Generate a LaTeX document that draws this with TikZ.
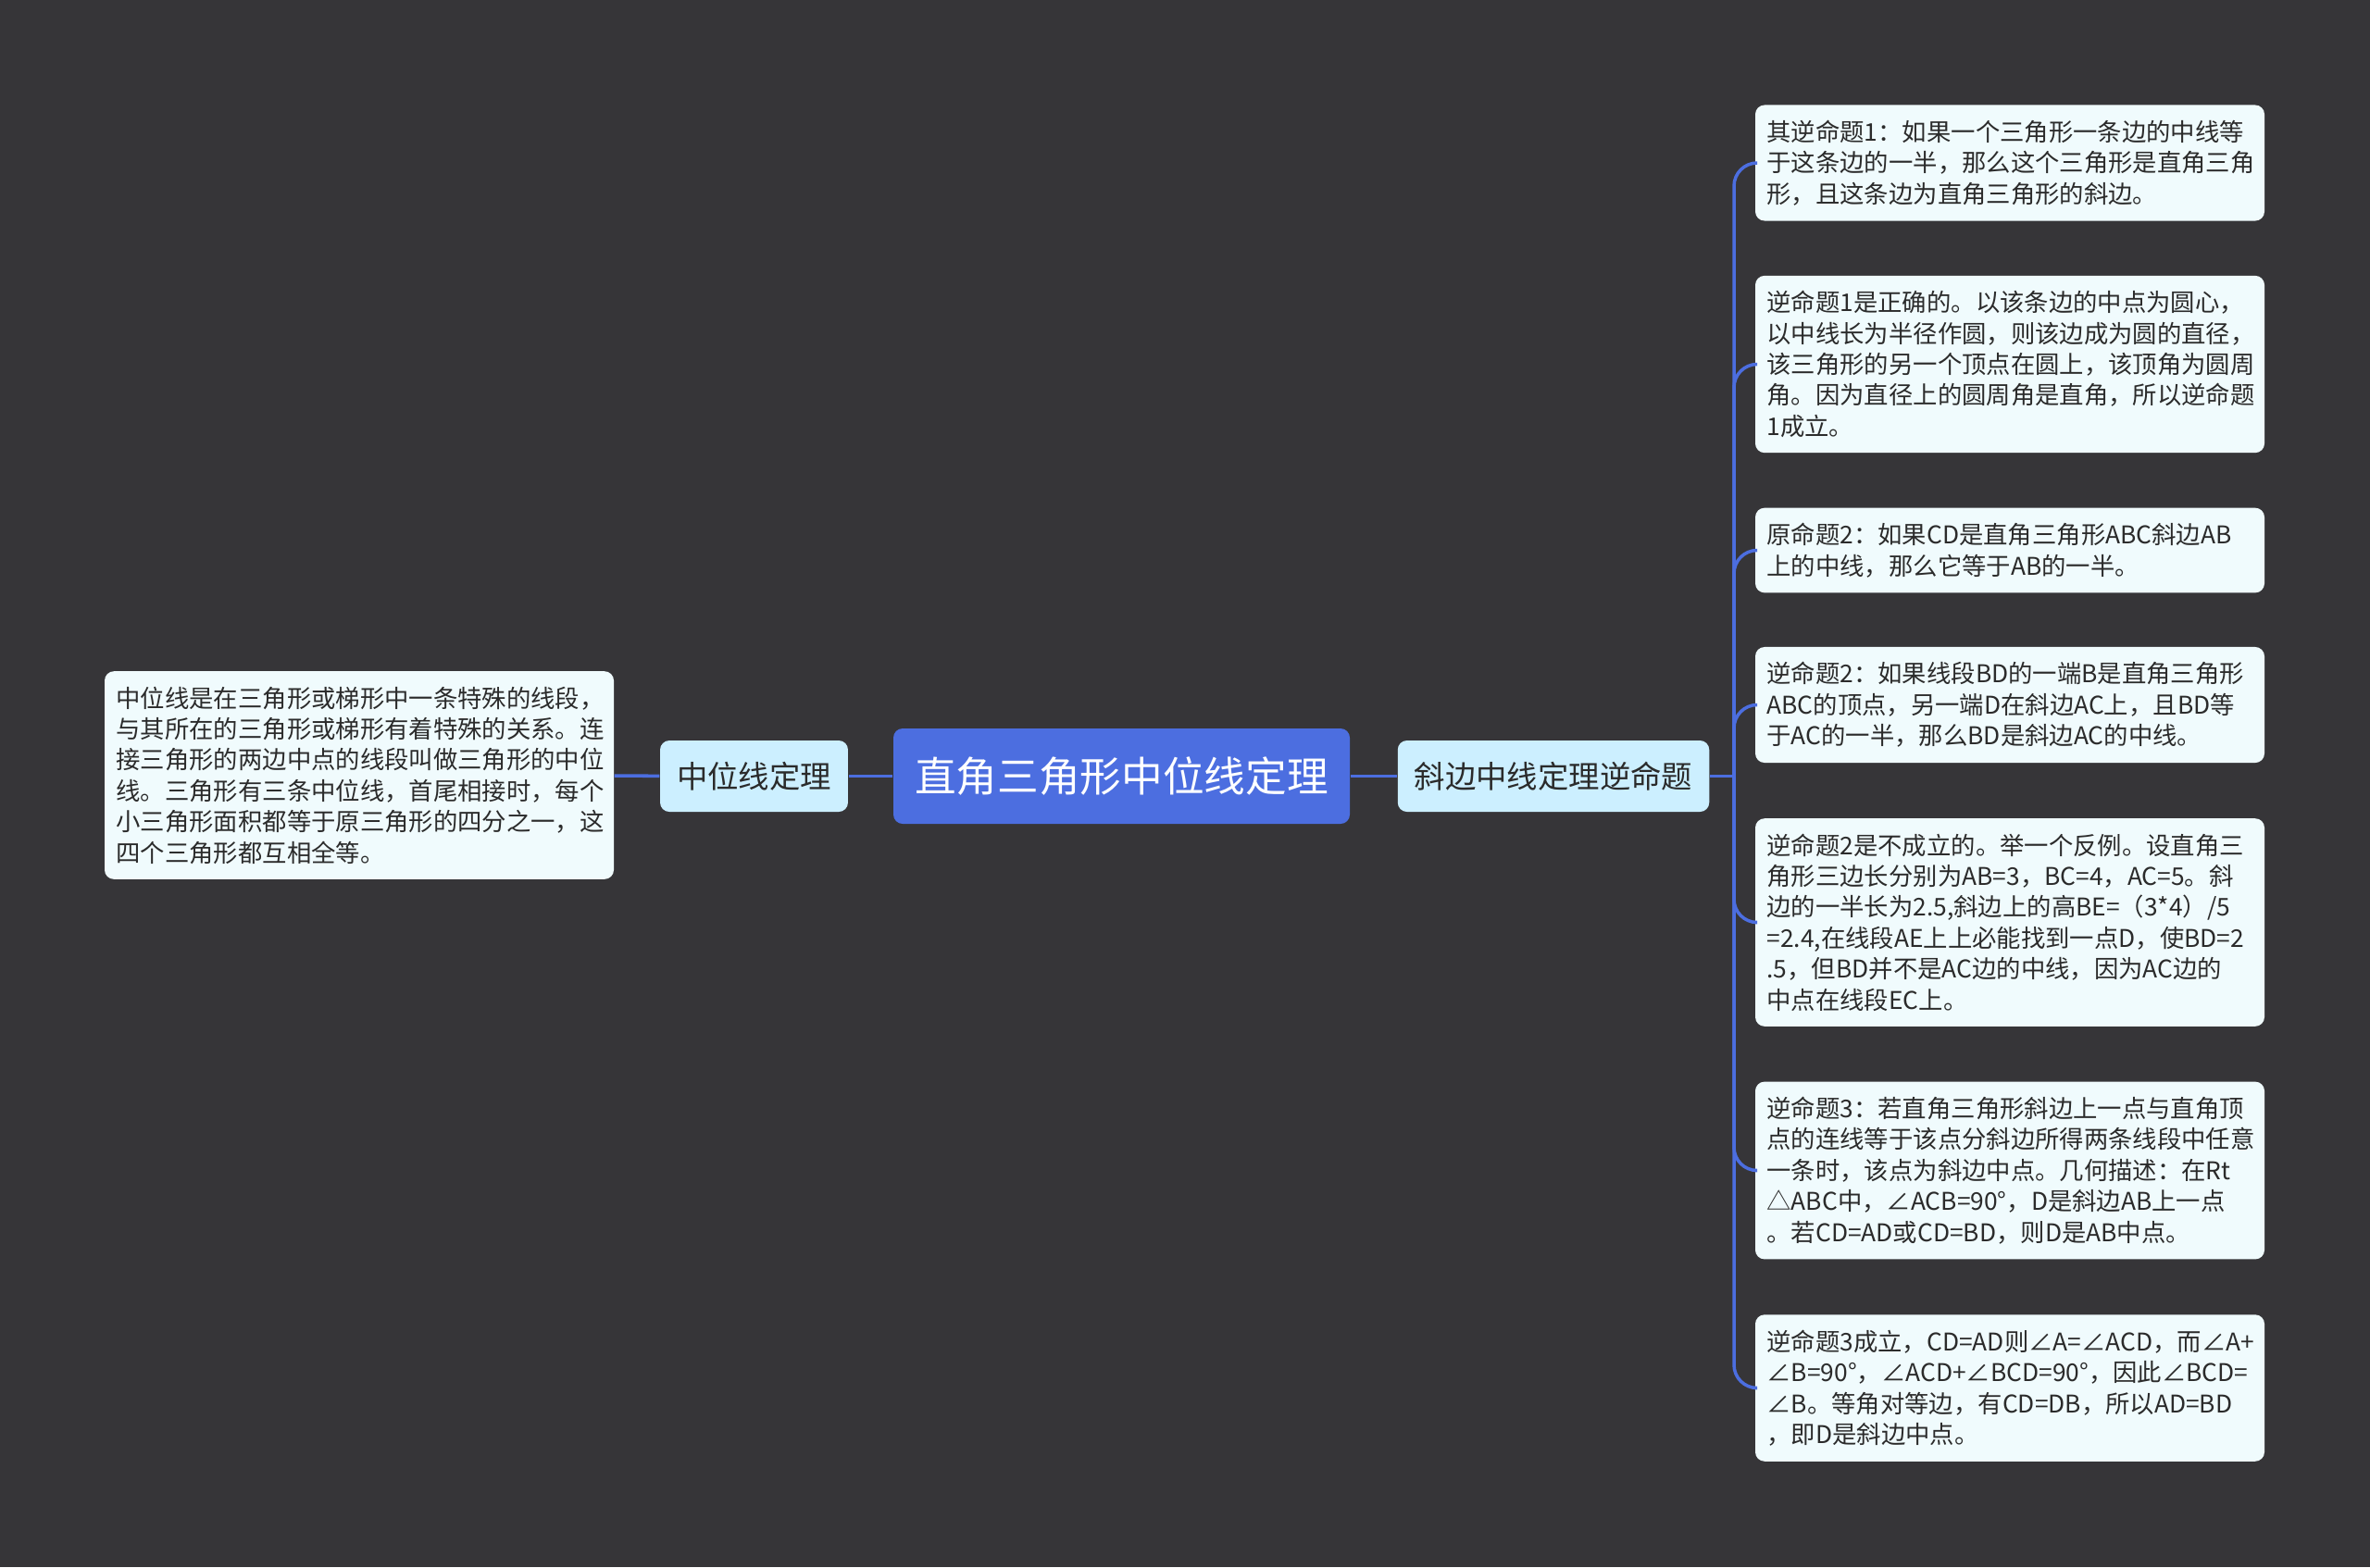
\documentclass[tikz,border=0pt]{standalone}
\usepackage{fontspec}
\setmainfont{Noto Sans CJK SC}
\usetikzlibrary{positioning}
\definecolor{bgdark}{HTML}{363538}
\definecolor{rootblue}{HTML}{4C6EE0}
\definecolor{topicblue}{HTML}{CCEFFF}
\definecolor{notewhite}{HTML}{F0FBFD}
\definecolor{inkdark}{HTML}{2B2B2B}

\begin{document}
\begin{tikzpicture}[root/.style={fill=rootblue,text=white,rounded corners=1mm,minimum width=4.93cm,minimum height=1.03cm,inner sep=0pt,font=\fontsize{12.7pt}{15pt}\selectfont},topic/.style={fill=topicblue,text=inkdark,rounded corners=1mm,minimum height=0.77cm,inner xsep=1.8mm,inner ysep=0pt,font=\fontsize{9.5pt}{11pt}\selectfont},note/.style={fill=notewhite,text=inkdark,rounded corners=1mm,align=left,text width=5.25cm,inner xsep=1.25mm,inner ysep=1.65mm,font=\fontsize{7.5pt}{9.5pt}\selectfont},link/.style={draw=rootblue,line width=1pt,rounded corners=2.5mm}]
\fill[bgdark] (0,0) rectangle (25.6,-16.93);
\useasboundingbox (0,0) rectangle (25.6,-16.93);
\node[root] (main) at (12.115,-8.385){直角三角形中位线定理};
\node[topic] (midline) at (8.145,-8.385){中位线定理};
\node[topic] (converse) at (16.78,-8.385){斜边中线定理逆命题};
\node[note] (midnote) at (3.88,-8.375){中位线是在三角形或梯形中一条特殊的线段，\\与其所在的三角形或梯形有着特殊的关系。连\\接三角形的两边中点的线段叫做三角形的中位\\线。三角形有三条中位线，首尾相接时，每个\\小三角形面积都等于原三角形的四分之一，这\\四个三角形都互相全等。};
\node[note] (conv1) at (21.71,-1.76){其逆命题1：如果一个三角形一条边的中线等\\于这条边的一半，那么这个三角形是直角三角\\形，且这条边为直角三角形的斜边。};
\node[note] (proof1) at (21.71,-3.935){逆命题1是正确的。以该条边的中点为圆心，\\以中线长为半径作圆，则该边成为圆的直径，\\该三角形的另一个顶点在圆上，该顶角为圆周\\角。因为直径上的圆周角是直角，所以逆命题\\1成立。};
\node[note] (orig2) at (21.71,-5.945){原命题2：如果CD是直角三角形ABC斜边AB\\上的中线，那么它等于AB的一半。};
\node[note] (conv2) at (21.71,-7.615){逆命题2：如果线段BD的一端B是直角三角形\\ABC的顶点，另一端D在斜边AC上，且BD等\\于AC的一半，那么BD是斜边AC的中线。};
\node[note] (proof2) at (21.71,-9.965){逆命题2是不成立的。举一个反例。设直角三\\角形三边长分别为AB=3，BC=4，AC=5。斜\\边的一半长为2.5,斜边上的高BE=（3*4）/5\\=2.4,在线段AE上上必能找到一点D，使BD=2\\.5，但BD并不是AC边的中线，因为AC边的\\中点在线段EC上。};
\node[note] (conv3) at (21.71,-12.645){逆命题3：若直角三角形斜边上一点与直角顶\\点的连线等于该点分斜边所得两条线段中任意\\一条时，该点为斜边中点。几何描述：在Rt\\△ABC中，∠ACB=90°，D是斜边AB上一点\\。若CD=AD或CD=BD，则D是AB中点。};
\node[note] (proof3) at (21.71,-14.995){逆命题3成立，CD=AD则∠A=∠ACD，而∠A+\\∠B=90°，∠ACD+∠BCD=90°，因此∠BCD=\\∠B。等角对等边，有CD=DB，所以AD=BD\\，即D是斜边中点。};
\coordinate (hub) at (18.73,-8.385);
% connectors
\draw[link] (main) -- (midline);
\draw[link] (midline) -- (midnote);
\draw[link] (main) -- (converse);
\draw[link] (converse) -- (hub);
\draw[link] (hub) |- (conv1.west);
\draw[link] (hub) |- (proof1.west);
\draw[link] (hub) |- (orig2.west);
\draw[link] (hub) |- (conv2.west);
\draw[link] (hub) |- (proof2.west);
\draw[link] (hub) |- (conv3.west);
\draw[link] (hub) |- (proof3.west);
\end{tikzpicture}
\end{document}
